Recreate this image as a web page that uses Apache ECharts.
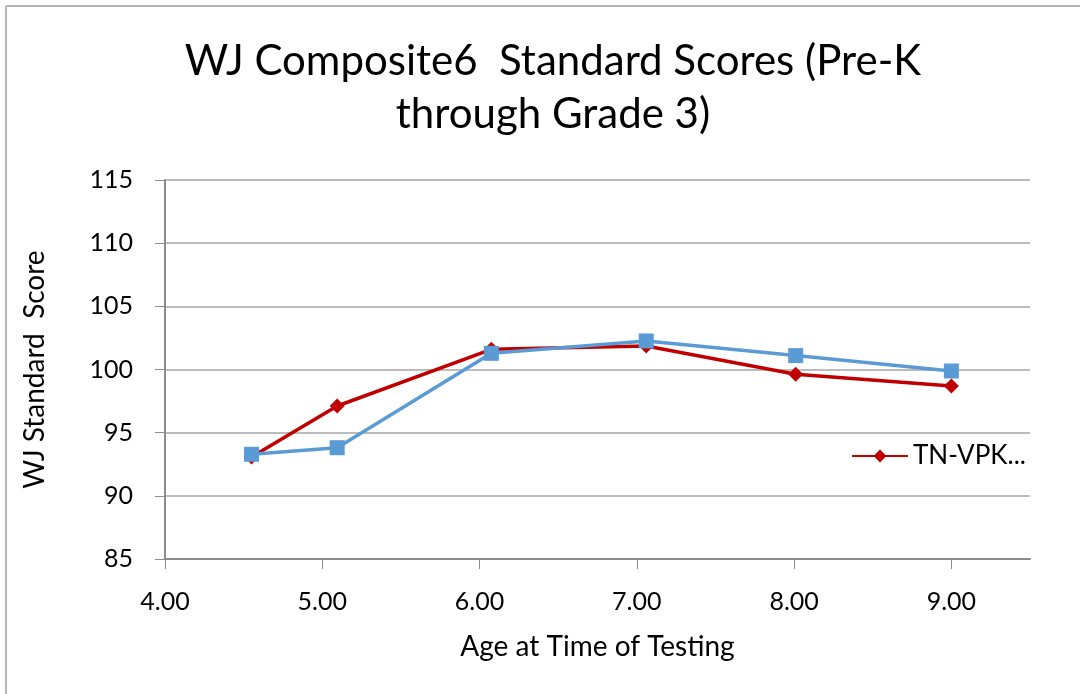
<!DOCTYPE html>
<html>
<head>
<meta charset="utf-8">
<script src="https://cdn.jsdelivr.net/npm/echarts@6/dist/echarts.min.js"></script>
<style>
html,body{margin:0;padding:0;background:#fff;}
#chart{width:1080px;height:694px;}
</style>
</head>
<body>
<div id="chart"></div>
<script>
var titleText = 'WJ Composite6  Standard Scores (Pre-K\nthrough Grade 3)';
var xAxisName = 'Age at Time of Testing';
var yAxisName = 'WJ Standard  Score';
var redName = 'TN-VPK...';
var blueName = 'Comparison';
var redAges = [4.55, 5.095, 6.075, 7.06, 8.01, 9.0];
var redScores = [93.08, 97.11, 101.6, 101.86, 99.62, 98.69];
var blueAges = [4.55, 5.095, 6.075, 7.06, 8.01, 9.0];
var blueScores = [93.29, 93.81, 101.28, 102.26, 101.1, 99.88];

function pairs(xs, ys){ return xs.map(function(x,i){ return [x, ys[i]]; }); }

var FONT = 'Lato, "Open Sans", sans-serif';
var chart = echarts.init(document.getElementById('chart'), null, {renderer:'canvas'});
chart.setOption({
  backgroundColor: '#ffffff',
  animation: false,
  textStyle: {fontFamily: FONT},
  graphic: [
    {type:'line', shape:{x1:6, y1:6, x2:1080, y2:6}, style:{stroke:'#b4b4b4', lineWidth:2}},
    {type:'line', shape:{x1:6, y1:6, x2:6, y2:694}, style:{stroke:'#b4b4b4', lineWidth:2}}
  ],
  title: {
    text: titleText,
    left: 548, textAlign: 'center', top: 30,
    textStyle: {fontFamily: FONT, fontSize: 42, fontWeight: 'normal', color: '#000', lineHeight: 53}
  },
  legend: {
    data: [redName],
    left: 846, top: 438,
    itemWidth: 56, itemHeight: 16, itemGap: 5,
    textStyle: {fontFamily: FONT, fontSize: 26, color: '#000'}
  },
  grid: {left: 165, right: 50, top: 180, bottom: 135, containLabel: false},
  xAxis: {
    type: 'value', min: 4, max: 9.5, interval: 1,
    name: xAxisName, nameLocation: 'middle', nameGap: 74,
    nameTextStyle: {fontFamily: FONT, fontSize: 28, color: '#000'},
    axisLine: {show: true, lineStyle: {color: '#8c8c8c', width: 2}},
    axisTick: {show: true, length: 10, lineStyle: {color: '#8c8c8c', width: 1}},
    axisLabel: {formatter: function(v){ return v.toFixed(2); }, showMaxLabel: false, fontFamily: FONT, fontSize: 25, color: '#000', margin: 30},
    splitLine: {show: false}
  },
  yAxis: {
    type: 'value', min: 85, max: 115, interval: 5,
    name: yAxisName, nameLocation: 'middle', nameGap: 116, nameRotate: 90,
    nameTextStyle: {fontFamily: FONT, fontSize: 28, color: '#000'},
    axisLine: {show: true, lineStyle: {color: '#8c8c8c', width: 2}},
    axisTick: {show: true, length: 10, lineStyle: {color: '#8c8c8c', width: 1}},
    axisLabel: {fontFamily: FONT, fontSize: 25, color: '#000', margin: 32},
    splitLine: {show: true, lineStyle: {color: '#a6a6a6', width: 1.5}}
  },
  series: [
    {
      name: redName, type: 'line', data: pairs(redAges, redScores),
      symbol: 'diamond', symbolSize: 15,
      lineStyle: {color: '#c00000', width: 3.5},
      itemStyle: {color: '#c00000'},
      z: 2
    },
    {
      name: blueName, type: 'line', data: pairs(blueAges, blueScores),
      symbol: 'rect', symbolSize: 15,
      lineStyle: {color: '#5b9bd5', width: 3.5},
      itemStyle: {color: '#5b9bd5'},
      z: 3
    }
  ]
});
</script>
</body>
</html>
